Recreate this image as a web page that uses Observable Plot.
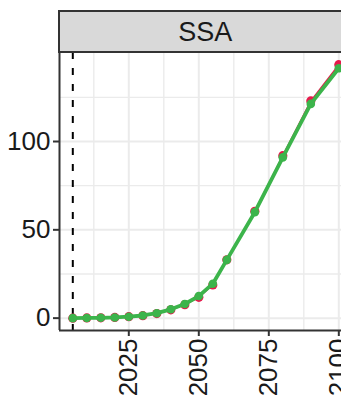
<!DOCTYPE html>
<html>
<head>
<meta charset="utf-8">
<script src="https://cdn.jsdelivr.net/npm/d3@7"></script>
<script src="https://cdn.jsdelivr.net/npm/@observablehq/plot@0.6"></script>
<style>
  html, body { margin: 0; padding: 0; background: white; }
  #chart { width: 341px; height: 406px; overflow: hidden; }
</style>
</head>
<body>
<div id="chart"></div>
<script>
// ---- data ----
const panelTitle = "SSA";
const years = [2005, 2010, 2015, 2020, 2025, 2030, 2035, 2040, 2045, 2050, 2055, 2060, 2070, 2080, 2090, 2100];
const seriesRed = [0, 0.1, 0.2, 0.4, 0.8, 1.4, 2.6, 4.7, 7.6, 11.8, 18.8, 33, 60.5, 92, 123, 143.5];
const seriesGreen = [0, 0.1, 0.2, 0.4, 0.8, 1.5, 2.8, 5, 8, 12.5, 19.5, 33, 60, 91, 121.3, 141.5];
const xTicks = [2025, 2050, 2075, 2100];
const xMinor = [2012.5, 2037.5, 2062.5, 2087.5];
const yTicks = [0, 50, 100];
const yMinor = [25, 75, 125];
const refYear = 2005;

const redData = years.map((y, i) => ({year: y, value: seriesRed[i]}));
const greenData = years.map((y, i) => ({year: y, value: seriesGreen[i]}));

const xDomain = [2000.25, 2100.96];
const yDomain = [-7, 150.4];
const gridCol = "#EBEBEB";
const fontSize = 26;

const plot = Plot.plot({
  width: 341,
  height: 406,
  marginLeft: 59,
  marginRight: 0,
  marginTop: 52,
  marginBottom: 76,
  style: {fontFamily: "'Liberation Sans', Arial, Helvetica, sans-serif", background: "white", overflow: "visible", color: "#1a1a1a"},
  x: {domain: xDomain, label: null},
  y: {domain: yDomain, label: null},
  marks: [
    Plot.ruleX(xMinor, {stroke: gridCol, strokeWidth: 1.4}),
    Plot.ruleY(yMinor, {stroke: gridCol, strokeWidth: 1.4}),
    Plot.ruleX(xTicks, {stroke: gridCol, strokeWidth: 2}),
    Plot.ruleY(yTicks, {stroke: gridCol, strokeWidth: 2}),
    Plot.ruleX([refYear], {stroke: "black", strokeWidth: 2, strokeDasharray: "7,9"}),
    Plot.line(redData, {x: "year", y: "value", stroke: "#e6194B", strokeWidth: 1.5}),
    Plot.dot(redData, {x: "year", y: "value", fill: "#e6194B", r: 4.6}),
    Plot.line(greenData, {x: "year", y: "value", stroke: "#3cb44b", strokeWidth: 3.8}),
    Plot.dot(greenData, {x: "year", y: "value", fill: "#3cb44b", r: 4.3}),
    Plot.ruleX([xDomain[0]], {stroke: "#333333", strokeWidth: 2}),
    Plot.ruleY([yDomain[0]], {stroke: "#333333", strokeWidth: 2}),
    Plot.axisX({ticks: xTicks, tickFormat: "d", tickRotate: -90, tickSize: 6, tickPadding: 2, fontSize: fontSize, stroke: "#333333", strokeWidth: 2, label: null}),
    Plot.axisY({ticks: yTicks, tickFormat: "d", tickSize: 6, tickPadding: 3, fontSize: fontSize, stroke: "#333333", strokeWidth: 2, label: null})
  ]
});

document.getElementById("chart").appendChild(plot);

// strip header
const svg = d3.select(plot);
const xs = plot.scale("x");
const x0 = xs.range[0];
const stripTop = 11, stripBottom = 52;
const stripCenterYear = 2052.5;
svg.append("rect")
  .attr("x", x0).attr("y", stripTop)
  .attr("width", 341 - x0 + 10).attr("height", stripBottom - stripTop)
  .attr("fill", "#D9D9D9").attr("stroke", "#333333").attr("stroke-width", 2);
svg.append("text")
  .attr("x", xs.apply(stripCenterYear))
  .attr("y", (stripTop + stripBottom) / 2)
  .attr("dy", "0.35em")
  .attr("text-anchor", "middle")
  .attr("font-size", 27)
  .attr("fill", "#1a1a1a")
  .style("font-family", "'Liberation Sans', Arial, Helvetica, sans-serif")
  .text(panelTitle);
</script>
</body>
</html>
